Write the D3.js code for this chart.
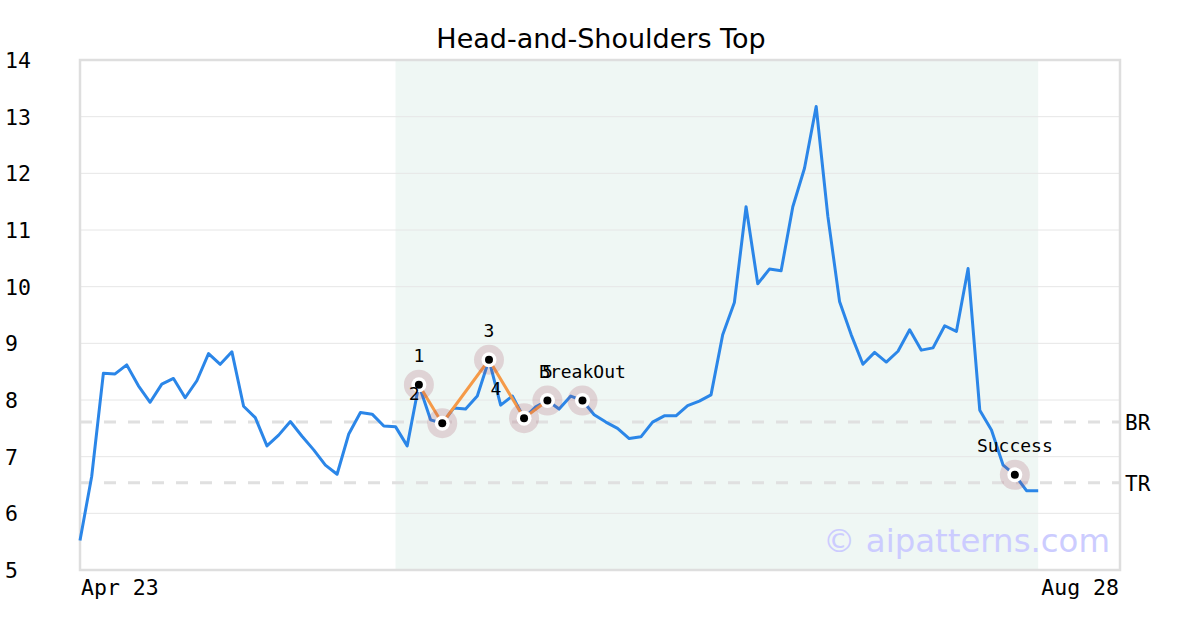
<!DOCTYPE html>
<html>
<head>
<meta charset="utf-8">
<script src="https://cdn.jsdelivr.net/npm/d3@7"></script>
<style>
  html, body { margin: 0; padding: 0; background: #fff; }
  svg { display: block; }
</style>
</head>
<body>
<svg id="chart" width="1200" height="630"></svg>
<script>
// ---- data ----
const title = "Head-and-Shoulders Top";
const xTickLabels = ["Apr 23", "Aug 28"];
const yTicks = [5, 6, 7, 8, 9, 10, 11, 12, 13, 14];
const prices = [
  5.52, 6.65, 8.47, 8.46, 8.62, 8.25, 7.96, 8.28, 8.38, 8.04,
  8.34, 8.82, 8.63, 8.85, 7.89, 7.69, 7.19, 7.38, 7.62, 7.36,
  7.12, 6.85, 6.69, 7.40, 7.78, 7.75, 7.54, 7.53, 7.19, 8.27,
  7.65, 7.59, 7.86, 7.84, 8.07, 8.71, 7.91, 8.07, 7.68, 7.88,
  7.99, 7.84, 8.07, 7.99, 7.74, 7.61, 7.50, 7.32, 7.35, 7.61,
  7.72, 7.72, 7.90, 7.98, 8.09, 9.15, 9.72, 11.41, 10.05, 10.31,
  10.28, 11.41, 12.09, 13.18, 11.24, 9.74, 9.15, 8.63, 8.84, 8.67,
  8.86, 9.24, 8.88, 8.92, 9.31, 9.21, 10.32, 7.82, 7.47, 6.85,
  6.68, 6.40, 6.40
];
const xSlots = 89;                    // index span of the x axis (Apr 23 .. Aug 28)
const patternIdx = [29, 31, 35, 38, 40];
const patternLabels = ["1", "2", "3", "4", "5"];
const breakoutIdx = 43;
const breakoutLabel = "BreakOut";
const successIdx = 80;
const successLabel = "Success";
const shadeIdx = [27, 82];
const levelValues = [7.61, 6.54];
const levelLabels = ["BR", "TR"];
const watermark = "\u00A9 aipatterns.com";

// ---- layout ----
const svg = d3.select("#chart");
const L = 80, R = 1120, T = 60, B = 570;
const x = d3.scaleLinear().domain([0, xSlots]).range([L, R]);
const y = d3.scaleLinear().domain([5, 14]).range([B, T]);
const mono = "'DejaVu Sans Mono', monospace";
const sans = "'DejaVu Sans', sans-serif";

// shaded region
svg.append("rect")
  .attr("x", x(shadeIdx[0])).attr("y", T)
  .attr("width", x(shadeIdx[1]) - x(shadeIdx[0])).attr("height", B - T)
  .attr("fill", "#eff7f4");

// gridlines
svg.append("g").selectAll("line").data(yTicks.slice(1, -1)).join("line")
  .attr("x1", L).attr("x2", R)
  .attr("y1", d => y(d)).attr("y2", d => y(d))
  .attr("stroke", "#e6e6e6").attr("stroke-width", 1);

// watermark
svg.append("text")
  .attr("x", 1110).attr("y", 552)
  .attr("text-anchor", "end")
  .attr("font-family", sans).attr("font-size", 32.4)
  .attr("fill", "#ccccff")
  .text(watermark);

// level lines
svg.append("g").selectAll("line").data(levelValues).join("line")
  .attr("x1", L).attr("x2", R)
  .attr("y1", d => y(d)).attr("y2", d => y(d))
  .attr("stroke", "#e0e0e0").attr("stroke-width", 3)
  .attr("stroke-dasharray", "12,12");
svg.append("g").selectAll("text").data(levelValues).join("text")
  .attr("x", 1125).attr("y", d => y(d) + 8)
  .attr("font-family", mono).attr("font-size", 21).attr("fill", "#000")
  .text((d, i) => levelLabels[i]);

// frame
svg.append("rect")
  .attr("x", L).attr("y", T).attr("width", R - L).attr("height", B - T)
  .attr("fill", "none").attr("stroke", "#dedede").attr("stroke-width", 2.5);

// price line
const line = d3.line().x((d, i) => x(i)).y(d => y(d));
svg.append("path").datum(prices)
  .attr("d", line)
  .attr("fill", "none").attr("stroke", "#2b86e8").attr("stroke-width", 3)
  .attr("stroke-linejoin", "round");

// pattern line
const patLine = d3.line().x(i => x(i)).y(i => y(prices[i]));
svg.append("path").datum(patternIdx)
  .attr("d", patLine)
  .attr("fill", "none").attr("stroke", "#f59a48").attr("stroke-width", 3);

// markers
const marks = patternIdx.map((idx, k) => ({ idx, label: patternLabels[k], k }))
  .concat([{ idx: breakoutIdx, label: breakoutLabel, k: -1 },
           { idx: successIdx, label: successLabel, k: -1 }]);
const mg = svg.append("g");
marks.forEach(m => {
  const cx = x(m.idx), cy = y(prices[m.idx]);
  mg.append("circle").attr("cx", cx).attr("cy", cy).attr("r", 15)
    .attr("fill", "rgba(160,70,90,0.2)");
  mg.append("circle").attr("cx", cx).attr("cy", cy).attr("r", 7.5)
    .attr("fill", "#fff");
  mg.append("circle").attr("cx", cx).attr("cy", cy).attr("r", 4)
    .attr("fill", "#000");
  // troughs of the pattern get their label shifted left
  let dx = 0;
  if (m.k > 0 && m.k < patternIdx.length - 1) {
    const p = prices[m.idx];
    if (p < prices[patternIdx[m.k - 1]] && p < prices[patternIdx[m.k + 1]]) dx = -28;
  }
  mg.append("text").attr("x", cx + dx).attr("y", cy - 23)
    .attr("text-anchor", "middle")
    .attr("font-family", mono).attr("font-size", 18).attr("fill", "#000")
    .text(m.label);
});

// y tick labels
svg.append("g").selectAll("text").data(yTicks).join("text")
  .attr("x", 5).attr("y", d => y(d) + 8)
  .attr("font-family", mono).attr("font-size", 21.5).attr("fill", "#000")
  .text(d => d);

// x tick labels
svg.append("text").attr("x", 81).attr("y", 595)
  .attr("font-family", mono).attr("font-size", 21.5).attr("fill", "#000")
  .text(xTickLabels[0]);
svg.append("text").attr("x", 1119).attr("y", 595).attr("text-anchor", "end")
  .attr("font-family", mono).attr("font-size", 21.5).attr("fill", "#000")
  .text(xTickLabels[1]);

// title
svg.append("text").attr("x", 601).attr("y", 48).attr("text-anchor", "middle")
  .attr("font-family", sans).attr("font-size", 27).attr("fill", "#000")
  .text(title);
</script>
</body>
</html>
